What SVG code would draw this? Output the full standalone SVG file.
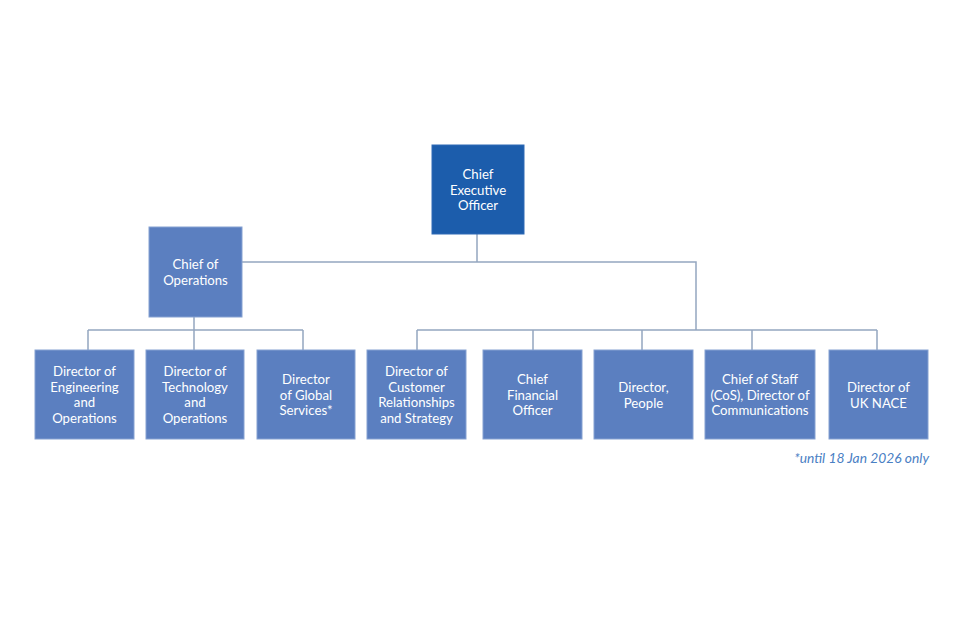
<svg xmlns="http://www.w3.org/2000/svg" width="960" height="640" viewBox="0 0 960 640">
<style>
.box{fill:#5b7fc0;stroke:#86a2d2;stroke-width:1}
.ceo{fill:#1c5dac;stroke:#2f6bb6;stroke-width:1}
.t{font-family:Lato,"Open Sans",sans-serif;font-size:13.2px;fill:#ffffff;text-anchor:middle}
.c{fill:none;stroke:#94a6c0;stroke-width:1.5}
.note{font-family:Lato,"Open Sans",sans-serif;font-size:13.8px;font-style:italic;fill:#4a80c4;text-anchor:end}
</style>
<rect width="960" height="640" fill="#ffffff"/>
<g id="connectors">
<path class="c" d="M477,234 V262 M242,262 H696 V330 M417,330 H877 M417,330 V350 M533,330 V350 M642,330 V350 M752,330 V350 M877,330 V350"/>
<path class="c" d="M194,317 V330 M88,330 H303 M88,330 V350 M194,330 V350 M303,330 V350"/>
</g>
<g id="ceo">
<rect class="ceo" x="432" y="145" width="92" height="89"/>
<text class="t" x="478" y="179">Chief</text>
<text class="t" x="478" y="194.5">Executive</text>
<text class="t" x="478" y="210">Officer</text>
</g>
<g id="coo">
<rect class="box" x="149" y="227" width="93" height="90"/>
<text class="t" x="195.5" y="269">Chief of</text>
<text class="t" x="195.5" y="285">Operations</text>
</g>
<g id="dir-eng">
<rect class="box" x="35" y="350" width="99" height="89"/>
<text class="t" x="84.5" y="376">Director of</text>
<text class="t" x="84.5" y="391.5">Engineering</text>
<text class="t" x="84.5" y="407">and</text>
<text class="t" x="84.5" y="422.5">Operations</text>
</g>
<g id="dir-tech">
<rect class="box" x="146" y="350" width="98" height="89"/>
<text class="t" x="195" y="376">Director of</text>
<text class="t" x="195" y="391.5">Technology</text>
<text class="t" x="195" y="407">and</text>
<text class="t" x="195" y="422.5">Operations</text>
</g>
<g id="dir-global">
<rect class="box" x="257" y="350" width="98" height="89"/>
<text class="t" x="306" y="384">Director</text>
<text class="t" x="306" y="399.5">of Global</text>
<text class="t" x="306" y="415">Services*</text>
</g>
<g id="dir-customer">
<rect class="box" x="367" y="350" width="99" height="89"/>
<text class="t" x="416.5" y="376">Director of</text>
<text class="t" x="416.5" y="391.5">Customer</text>
<text class="t" x="416.5" y="407">Relationships</text>
<text class="t" x="416.5" y="422.5">and Strategy</text>
</g>
<g id="cfo">
<rect class="box" x="483" y="350" width="99" height="89"/>
<text class="t" x="532.5" y="384">Chief</text>
<text class="t" x="532.5" y="399.5">Financial</text>
<text class="t" x="532.5" y="415">Officer</text>
</g>
<g id="dir-people">
<rect class="box" x="594" y="350" width="99" height="89"/>
<text class="t" x="643.5" y="392">Director,</text>
<text class="t" x="643.5" y="407.5">People</text>
</g>
<g id="cos">
<rect class="box" x="705" y="350" width="110" height="89"/>
<text class="t" x="760" y="384">Chief of Staff</text>
<text class="t" x="760" y="399.5">(CoS), Director of</text>
<text class="t" x="760" y="415">Communications</text>
</g>
<g id="dir-nace">
<rect class="box" x="829" y="350" width="99" height="89"/>
<text class="t" x="878.5" y="392">Director of</text>
<text class="t" x="878.5" y="407.5">UK NACE</text>
</g>
<text class="note" x="929" y="463">*until 18 Jan 2026 only</text>
</svg>
